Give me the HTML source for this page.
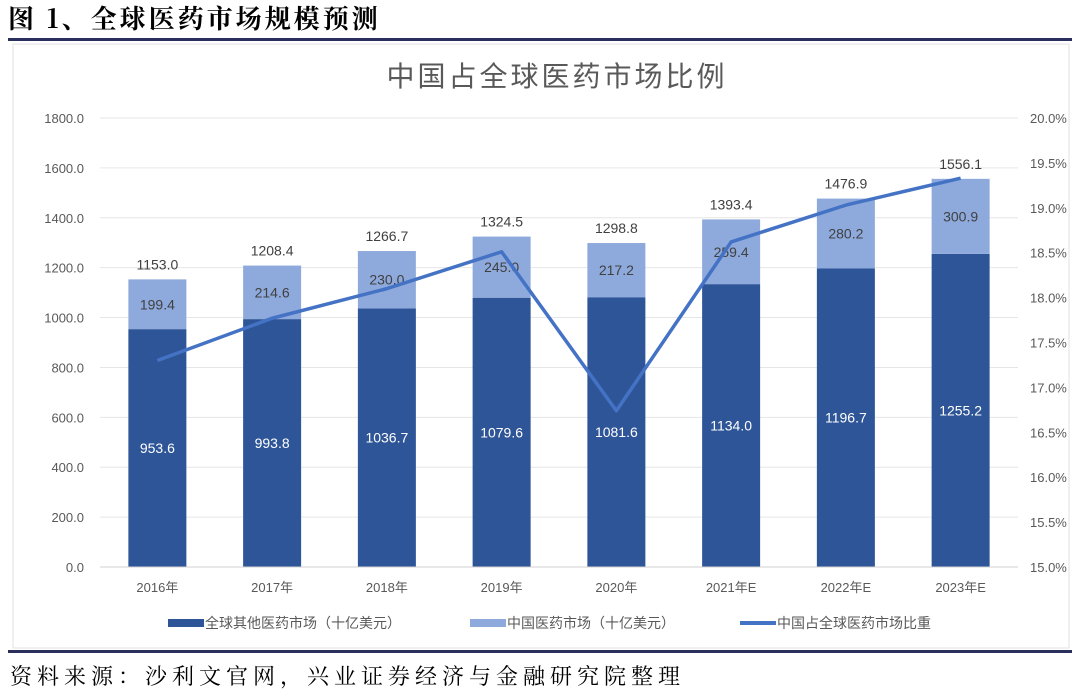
<!DOCTYPE html>
<html><head><meta charset="utf-8">
<style>
body{margin:0;width:1080px;height:692px;background:#fff;overflow:hidden;font-family:"Liberation Sans","Noto Sans CJK SC",sans-serif;}
</style></head>
<body>
<svg width="1080" height="692" xmlns="http://www.w3.org/2000/svg" id="chart">
<text x="8" y="28" font-family="Noto Serif CJK SC, serif" font-weight="bold" font-size="26" letter-spacing="3" fill="#000">图 1、全球医药市场规模预测</text>
<rect x="8" y="38" width="1064" height="3" fill="#2b2f5e"/>
<rect x="13" y="44" width="1056" height="604" fill="#fff" stroke="#e2e2e2"/>
<text x="557" y="86" text-anchor="middle" font-size="28" letter-spacing="3" fill="#595959" font-family="Noto Sans CJK SC, sans-serif">中国占全球医药市场比例</text>
<rect x="8" y="650" width="1064" height="3" fill="#2b2f5e"/>
<text x="10" y="684" font-family="Noto Serif CJK SC, serif" font-size="22" letter-spacing="5" fill="#000">资料来源：沙利文官网，兴业证券经济与金融研究院整理</text>
<g id="plot"></g>
<g>
  <rect x="168" y="619" width="36" height="8" fill="#2e5597"/>
  <text x="205" y="628" font-size="14" fill="#595959">全球其他医药市场（十亿美元）</text>
  <rect x="470" y="619" width="36" height="8" fill="#8eaadc"/>
  <text x="507" y="628" font-size="14" fill="#595959">中国医药市场（十亿美元）</text>
  <rect x="740" y="621" width="36" height="4" fill="#4472c4"/>
  <text x="777" y="628" font-size="14" fill="#595959">中国占全球医药市场比重</text>
</g>
</svg>
<script>
const categories=["2016年","2017年","2018年","2019年","2020年","2021年E","2022年E","2023年E"];
const otherValues=[953.6,993.8,1036.7,1079.6,1081.6,1134.0,1196.7,1255.2];
const chinaValues=[199.4,214.6,230.0,245.0,217.2,259.4,280.2,300.9];
const totalValues=[1153.0,1208.4,1266.7,1324.5,1298.8,1393.4,1476.9,1556.1];
const shareValues=[17.30,17.77,18.10,18.51,16.74,18.62,19.03,19.33];
const leftTicks=[0,200,400,600,800,1000,1200,1400,1600,1800];
const rightTicks=[15,15.5,16,16.5,17,17.5,18,18.5,19,19.5,20];

const NS="http://www.w3.org/2000/svg";
const g=document.getElementById('plot');
const x0=100,x1=1018,yb=567,yt=118;
const yL=v=>yb-(v/1800)*(yb-yt);
const yR=v=>yb-((v-15)/5)*(yb-yt);
const step=(x1-x0)/categories.length;
const xc=i=>x0+step*(i+0.5);
const bw=58;
function el(t,a,txt){const e=document.createElementNS(NS,t);for(const k in a)e.setAttribute(k,a[k]);if(txt!==undefined)e.textContent=txt;g.appendChild(e);return e;}

leftTicks.forEach(v=>{
  const l=el('line',{x1:x0,x2:x1,y1:yL(v),y2:yL(v),stroke:'#e6e6e6','stroke-width':1});
  
  
  const t=el('text',{x:84,y:yL(v)+5,'text-anchor':'end','font-size':13,fill:'#595959'},v.toFixed(1));
  
  
});
rightTicks.forEach(v=>{
  const t=el('text',{x:1030,y:yR(v)+5,'font-size':13,fill:'#595959'},v.toFixed(1)+'%');
  
  
});
categories.forEach((c,i)=>{
  const x=xc(i);
  const b1=el('rect',{x:x-bw/2,y:yL(otherValues[i]),width:bw,height:yb-yL(otherValues[i]),fill:'#2e5597'});
  
  
  const top=otherValues[i]+chinaValues[i];
  const b2=el('rect',{x:x-bw/2,y:yL(top),width:bw,height:yL(otherValues[i])-yL(top),fill:'#8eaadc'});
  
  
  const t1=el('text',{x:x,y:(yb+yL(otherValues[i]))/2+5,'text-anchor':'middle','font-size':14,fill:'#fff'},otherValues[i].toFixed(1));
  
  
  const t2=el('text',{x:x,y:(yL(otherValues[i])+yL(top))/2+5,'text-anchor':'middle','font-size':14,fill:'#404040'},chinaValues[i].toFixed(1));
  
  
  const t3=el('text',{x:x,y:yL(totalValues[i])-10,'text-anchor':'middle','font-size':14,fill:'#404040'},totalValues[i].toFixed(1));
  
  
  const t4=el('text',{x:x,y:592,'text-anchor':'middle','font-size':13,fill:'#595959'},c);
  
  
});
const ax=el('line',{x1:x0,x2:x1,y1:yb,y2:yb,stroke:'#d0d0d0'});


const pts=shareValues.map((v,i)=>xc(i)+','+yR(v)).join(' ');
const pl=el('polyline',{points:pts,fill:'none',stroke:'#4472c4','stroke-width':3.5,'stroke-linejoin':'round'});


</script>
</body></html>
